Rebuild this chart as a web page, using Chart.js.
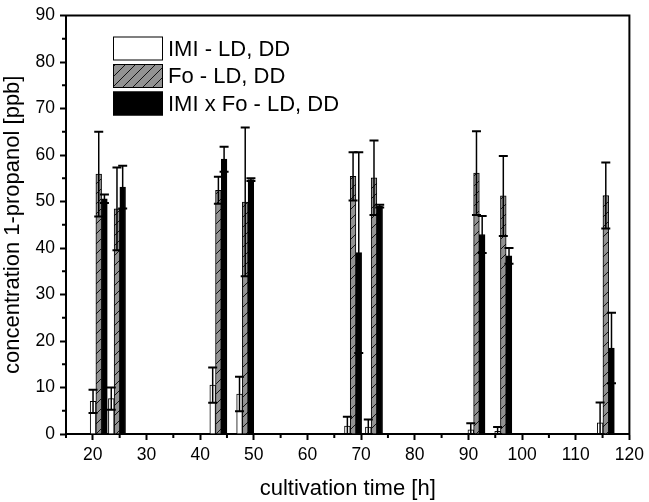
<!DOCTYPE html>
<html>
<head>
<meta charset="utf-8">
<script src="https://cdn.jsdelivr.net/npm/chart.js@4.4.1/dist/chart.umd.min.js"></script>
<style>
  html, body { margin: 0; padding: 0; background: #fff; }
  canvas { display: block; }
</style>
</head>
<body>
<canvas id="propanolChart" width="649" height="502"></canvas>
<script>
// cultivation time of each sampling group [h]
const times = [21.1, 24.5, 43.4, 48.4, 68.5, 72.4, 91.5, 96.5, 115.6];

// 1-propanol concentration [ppb] with error (+/-)
const imi = [7.0, 7.6, 10.5, 8.6, 1.7, 1.5, 0.9, 0.6, 2.4];
const imiErr = [2.5, 2.4, 3.8, 3.7, 2.0, 1.6, 1.4, 0.9, 4.4];
const fo = [55.9, 48.4, 52.4, 49.9, 55.4, 55.1, 56.1, 51.2, 51.3];
const foErr = [9.1, 8.9, 2.9, 16.0, 5.2, 8.0, 9.0, 8.6, 7.1];
const imiFo = [50.6, 53.1, 59.1, 54.7, 39.0, 49.0, 42.9, 38.3, 18.5];
const imiFoErr = [0.9, 4.6, 2.7, 0.3, 21.6, 0.3, 4.0, 1.7, 7.6];

const seriesLabels = ['IMI - LD, DD', 'Fo - LD, DD', 'IMI x Fo - LD, DD'];

// axis ranges and tick steps
const xRange = [15, 120];
const yRange = [0, 90];
const majorStep = 10;
const minorStep = 5;

Chart.defaults.font.family = '"Liberation Sans", Arial, Helvetica, sans-serif';
Chart.defaults.color = '#000';

// grey fill with diagonal hatching for the Fo series
function makeHatch() {
    const size = 10;
    const c = document.createElement('canvas');
    c.width = size;
    c.height = size;
    const g = c.getContext('2d');
    g.fillStyle = '#929292';
    g.fillRect(0, 0, size, size);
    g.strokeStyle = '#111';
    g.lineWidth = 1;
    g.beginPath();
    g.moveTo(0, size); g.lineTo(size, 0);
    g.moveTo(-2, 2); g.lineTo(2, -2);
    g.moveTo(size - 2, size + 2); g.lineTo(size + 2, size - 2);
    g.stroke();
    return g.createPattern(c, 'repeat');
}

function toPoints(values) {
    return values.map((v, i) => ({ x: times[i], y: v }));
}

// error bars with caps, drawn over the bars
const errorBars = {
    id: 'errorBars',
    afterDatasetsDraw(chart) {
        const ctx = chart.ctx;
        const yScale = chart.scales.y;
        ctx.save();
        ctx.strokeStyle = '#000';
        chart.data.datasets.forEach((ds, di) => {
            const meta = chart.getDatasetMeta(di);
            meta.data.forEach((bar, i) => {
                const v = ds.data[i].y;
                const e = ds.errors[i];
                const top = yScale.getPixelForValue(v + e);
                const bottom = yScale.getPixelForValue(Math.max(0, v - e));
                ctx.lineWidth = 1.5;
                ctx.beginPath();
                ctx.moveTo(bar.x, top);
                ctx.lineTo(bar.x, bottom);
                ctx.stroke();
                ctx.lineWidth = 2;
                ctx.beginPath();
                ctx.moveTo(bar.x - 4.5, top); ctx.lineTo(bar.x + 4.5, top);
                ctx.moveTo(bar.x - 4.5, bottom); ctx.lineTo(bar.x + 4.5, bottom);
                ctx.stroke();
            });
        });
        ctx.restore();
    }
};

// closed frame and the short minor ticks
const frame = {
    id: 'frame',
    afterDraw(chart) {
        const { ctx, chartArea: a, scales: { x, y } } = chart;
        ctx.save();
        ctx.strokeStyle = '#000';
        ctx.lineWidth = 2;
        ctx.beginPath();
        ctx.moveTo(a.left - 1, a.top);
        ctx.lineTo(a.right, a.top);
        ctx.lineTo(a.right, a.bottom + 1);
        for (let v = xRange[0]; v < xRange[1]; v += majorStep) {
            const px = x.getPixelForValue(v);
            ctx.moveTo(px, a.bottom);
            ctx.lineTo(px, a.bottom + 4);
        }
        for (let v = yRange[0] + minorStep; v < yRange[1]; v += majorStep) {
            const py = y.getPixelForValue(v);
            ctx.moveTo(a.left, py);
            ctx.lineTo(a.left - 4, py);
        }
        ctx.stroke();
        ctx.restore();
    }
};

// legend inside the plot, top left
const boxLegend = {
    id: 'boxLegend',
    afterDraw(chart) {
        const ctx = chart.ctx;
        const a = chart.chartArea;
        ctx.save();
        ctx.font = '22px "Liberation Sans", Arial, sans-serif';
        ctx.textBaseline = 'middle';
        chart.data.datasets.forEach((ds, i) => {
            const bx = a.left + 47;
            const by = a.top + 21 + i * 27.5;
            ctx.fillStyle = ds.backgroundColor;
            ctx.fillRect(bx, by, 50, 24);
            ctx.strokeStyle = '#000';
            ctx.lineWidth = 1;
            ctx.strokeRect(bx + 0.5, by + 0.5, 49, 23);
            ctx.fillStyle = '#000';
            ctx.fillText(ds.label, bx + 55, by + 13);
        });
        ctx.restore();
    }
};

const hatch = makeHatch();
const tickFont = { size: 17.5 };

new Chart(document.getElementById('propanolChart'), {
    type: 'bar',
    data: {
        datasets: [
            { label: seriesLabels[0], data: toPoints(imi), errors: imiErr, backgroundColor: '#ffffff', borderColor: '#000', borderWidth: 1 },
            { label: seriesLabels[1], data: toPoints(fo), errors: foErr, backgroundColor: hatch, borderColor: '#000', borderWidth: 1 },
            { label: seriesLabels[2], data: toPoints(imiFo), errors: imiFoErr, backgroundColor: '#000000', borderColor: '#000', borderWidth: 1 }
        ]
    },
    options: {
        responsive: false,
        animation: false,
        barThickness: 5.7,
        layout: { padding: { top: 9, right: 16, left: 0, bottom: 0 } },
        plugins: {
            legend: { display: false },
            tooltip: { enabled: false }
        },
        scales: {
            x: {
                type: 'linear',
                min: xRange[0],
                max: xRange[1],
                offset: false,
                grid: { offset: false, drawOnChartArea: false, tickLength: 6, tickWidth: 2, tickColor: '#000' },
                border: { color: '#000', width: 2 },
                ticks: { stepSize: majorStep, includeBounds: false, maxRotation: 0, color: '#000', font: tickFont, padding: 5 },
                title: { display: true, text: 'cultivation time [h]', color: '#000', font: { size: 22 }, padding: { top: 0, bottom: 0 } },
                afterFit(scale) { scale.height = 68; }
            },
            y: {
                min: yRange[0],
                max: yRange[1],
                grid: { drawOnChartArea: false, tickLength: 6, tickWidth: 2, tickColor: '#000' },
                border: { color: '#000', width: 2 },
                ticks: { stepSize: majorStep, color: '#000', font: tickFont, padding: 5 },
                title: { display: true, text: 'concentration 1-propanol [ppb]', color: '#000', font: { size: 22 }, padding: { top: 0, bottom: 0 } },
                afterFit(scale) { scale.width = 66; }
            }
        }
    },
    plugins: [errorBars, frame, boxLegend]
});
</script>
</body>
</html>
